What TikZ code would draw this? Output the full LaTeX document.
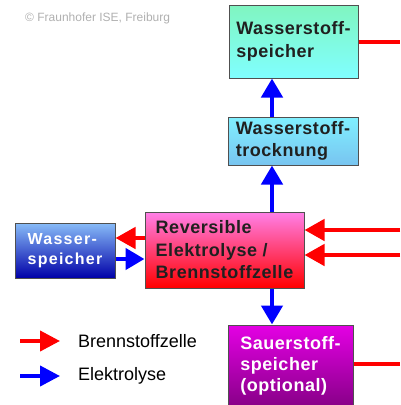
\documentclass[tikz,border=0pt]{standalone}
\usepackage{fontspec}
\setmainfont{Liberation Sans}
\setsansfont{Liberation Sans}
\newfontfamily\wsfont[LetterSpace=8]{Liberation Sans}
\newfontfamily\bxfont[LetterSpace=3]{Liberation Sans}
\usetikzlibrary{arrows.meta}
\definecolor{boxborder}{HTML}{505050}
\definecolor{hTop}{HTML}{80F5C0}
\definecolor{hBot}{HTML}{80FFFF}
\definecolor{dTop}{HTML}{80F0FF}
\definecolor{dBot}{HTML}{78C4F0}
\definecolor{rTop}{HTML}{FF80E8}
\definecolor{rBot}{HTML}{FF0000}
\definecolor{wTop}{HTML}{88BCF8}
\definecolor{wBot}{HTML}{0000A8}
\definecolor{oTop}{HTML}{E400E4}
\definecolor{oBot}{HTML}{800080}
\definecolor{flowred}{HTML}{FF0000}
\definecolor{flowblue}{HTML}{0000FF}
\definecolor{boxtext}{HTML}{202020}
\definecolor{copygray}{HTML}{B0B0B0}
\begin{document}
\begin{tikzpicture}[x=1pt,y=-1pt,
  box/.style={draw=boxborder, line width=1pt, align=left, inner sep=0pt,
    font=\bxfont\bfseries\fontsize{18}{22.5}\selectfont},
  redflow/.style={draw=flowred, line width=4.5pt, -{Triangle[length=20pt,width=21pt]}},
  blueflow/.style={draw=flowblue, line width=4.5pt, -{Triangle[length=19pt,width=21pt]}},
  redline/.style={draw=flowred, line width=4pt},
  legendtext/.style={anchor=west, inner sep=0pt, font=\fontsize{18}{22}\selectfont, text=black}
]
\useasboundingbox (0,0) rectangle (400,405);

\node[anchor=west, inner sep=0pt, text=copygray, font=\fontsize{12}{14}\selectfont] (copy) at (25,18) {© Fraunhofer ISE, Freiburg};

\node[box, minimum width=129pt, minimum height=73pt, top color=hTop, bottom color=hBot, text=boxtext] (h2) at (293.5,41.5) {Wasserstoff-\\speicher};
\node[box, minimum width=130pt, minimum height=48pt, top color=dTop, bottom color=dBot, text=boxtext] (dry) at (293,141) {Wasserstoff-\\trocknung};
\node[box, minimum width=159pt, minimum height=76pt, top color=rTop, bottom color=rBot, text=boxtext] (rev) at (224.5,250) {Reversible\\Elektrolyse /\\Brennstoffzelle};
\node[box, minimum width=100pt, minimum height=55pt, top color=wTop, bottom color=wBot, text=white, font=\wsfont\bfseries\fontsize{16}{20}\selectfont] (ws) at (65,250.5) {Wasser-\\speicher};
\node[box, minimum width=125pt, minimum height=88pt, top color=oTop, bottom color=oBot, text=white, font=\bxfont\bfseries\fontsize{18}{21}\selectfont, text depth=0pt] (o2) at (290.5,369) {Sauerstoff-\\speicher\\(optional)\vspace{6pt}};

\coordinate (vx) at (272,0);
\coordinate (r0) at (400,42);
\coordinate (r1) at (400,230);
\coordinate (r2) at (400,255);
\coordinate (r3) at (400,364);

% vertical electrolysis flows
\draw[blueflow] (dry.north -| vx) -- (h2.south -| vx);
\draw[blueflow] (rev.north -| vx) -- (dry.south -| vx);
\draw[blueflow] (rev.south -| vx) -- (o2.north -| vx);

% horizontal flows with water storage
\draw[redflow] ([yshift=12pt]rev.west) -- ([yshift=12pt]rev.west -| ws.east);
\draw[blueflow] ([yshift=-8.5pt]ws.east) -- ([yshift=-8.5pt]ws.east -| rev.west);

% incoming fuel cell lines from right
\draw[redflow] (r1) -- (r1 -| rev.east);
\draw[redflow] (r2) -- (r2 -| rev.east);
\draw[redline] (r0 -| h2.east) -- (r0);
\draw[redline] (r3 -| o2.east) -- (r3);

% legend
\node[legendtext] (lg1) at (78,341) {Brennstoffzelle};
\node[legendtext] (lg2) at (78,376) {Elektrolyse};
\coordinate (la1) at (20,341);
\coordinate (la2) at (20,376);
\draw[draw=flowred, line width=4pt, -{Triangle[length=20pt,width=20pt]}] (la1) -- ([xshift=-18pt]lg1.west);
\draw[draw=flowblue, line width=4pt, -{Triangle[length=20pt,width=20pt]}] (la2) -- ([xshift=-18pt]lg2.west);
\end{tikzpicture}
\end{document}
